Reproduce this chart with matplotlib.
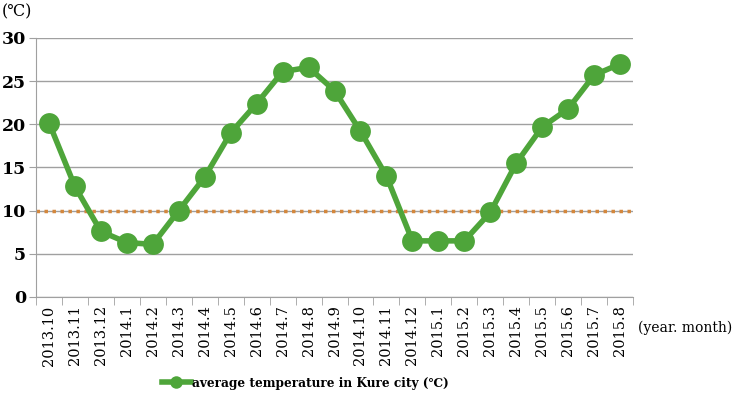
import matplotlib
matplotlib.use("Agg")
import matplotlib.pyplot as plt
import numpy as np

plt.rcParams['font.family'] = ['DejaVu Serif', 'DejaVu Sans']

months = ["2013.10", "2013.11", "2013.12", "2014.1", "2014.2", "2014.3", "2014.4",
          "2014.5", "2014.6", "2014.7", "2014.8", "2014.9", "2014.10", "2014.11",
          "2014.12", "2015.1", "2015.2", "2015.3", "2015.4", "2015.5", "2015.6",
          "2015.7", "2015.8"]
temps = [20.2, 12.8, 7.6, 6.3, 6.1, 10.0, 13.9, 19.0, 22.4, 26.1, 26.6, 23.9,
         19.2, 14.0, 6.5, 6.5, 6.5, 9.8, 15.5, 19.7, 21.8, 25.7, 27.0]
threshold = 10

fig = plt.figure(figsize=(7.37, 4.05), dpi=100)
ax = fig.add_axes([0.0488, 0.2667, 0.8102, 0.6395])

x = np.arange(len(months))
ax.set_xlim(-0.5, len(months) - 0.5)
ax.set_ylim(0, 30)

ax.axhline(threshold, color='#D4873C', linestyle=(0, (1, 1.3)), linewidth=2.5,
           dash_capstyle='butt', zorder=2)
ax.plot(x, temps, color='#4EA53A', linewidth=4, marker='o', markersize=15,
        markeredgewidth=0, label='average temperature in Kure city (℃)', zorder=3)

ax.set_yticks(range(0, 31, 5))
ax.yaxis.grid(True, color='#A0A0A0', linewidth=1)
ax.set_axisbelow(True)
ax.tick_params(axis='y', length=5, color='#A0A0A0', labelsize=12.5, pad=2)
for lab in ax.get_yticklabels():
    lab.set_fontweight('bold')

ax.set_xticks(x)
ax.set_xticklabels(months, rotation=90, fontsize=10.5)
ax.set_xticks(np.arange(-0.5, len(months), 1), minor=True)
ax.tick_params(axis='x', which='major', length=0, pad=6)
ax.tick_params(axis='x', which='minor', length=6, color='#A0A0A0')

for s in ['top', 'right']:
    ax.spines[s].set_visible(False)
ax.spines['left'].set_color('#A0A0A0')
ax.spines['bottom'].set_color('#A0A0A0')

fig.text(0.003, 0.97, '(℃)', fontsize=11.5, ha='left', va='center')
fig.text(0.866, 0.19, '(year. month)', fontsize=10, ha='left', va='center')

leg = fig.legend(loc='center', bbox_to_anchor=(0.414, 0.054), frameon=False,
                 fontsize=8.7, handlelength=2.4, handletextpad=0.1)
for t in leg.get_texts():
    t.set_fontweight('bold')
for h in leg.legend_handles:
    h.set_markersize(9)

fig.savefig('out.png', dpi=100)
